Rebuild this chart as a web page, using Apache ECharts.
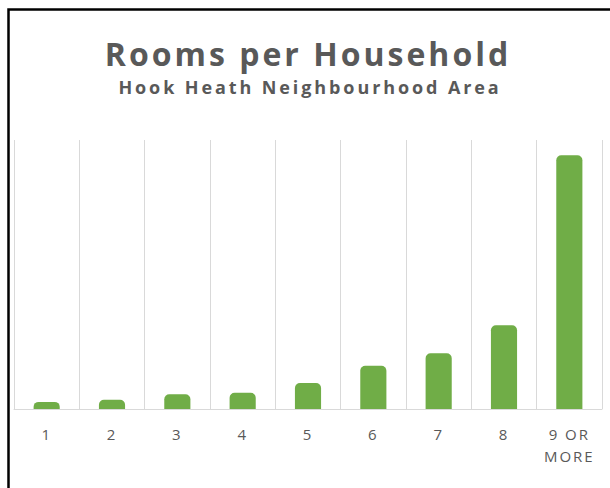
<!DOCTYPE html>
<html>
<head>
<meta charset="utf-8">
<script src="https://cdn.jsdelivr.net/npm/echarts@6/dist/echarts.min.js"></script>
<style>
  html, body { margin: 0; padding: 0; background: #fff; }
  #chart { width: 610px; height: 488px; }
</style>
</head>
<body>
<div id="chart"></div>
<script>
  // data
  const titleText = 'Rooms per Household';
  const subText = 'Hook Heath Neighbourhood Area';
  const categories = ['1', '2', '3', '4', '5', '6', '7', '8', '9 OR\nMORE'];
  const shares = [1.4, 1.8, 2.9, 3.2, 5.1, 8.5, 11.0, 16.5, 50.0];

  const chartDom = document.getElementById('chart');
  const myChart = echarts.init(chartDom, null, { renderer: 'svg' });

  const option = {
    animation: false,
    backgroundColor: '#fff',
    graphic: [
      {
        type: 'rect',
        shape: { x: 8.5, y: 9.5, width: 700, height: 600 },
        style: { fill: 'none', stroke: '#000', lineWidth: 2.5 },
        silent: true
      },
      {
        type: 'text',
        x: 308,
        y: 53,
        style: {
          text: titleText,
          fill: '#595959',
          font: 'bold 32px "Open Sans"',
          align: 'center',
          verticalAlign: 'middle',
          textAlign: 'center',
          textVerticalAlign: 'middle'
        }
      },
      {
        type: 'text',
        x: 310,
        y: 87,
        style: {
          text: subText,
          fill: '#595959',
          font: 'bold 18px "Open Sans"',
          align: 'center',
          verticalAlign: 'middle',
          textAlign: 'center',
          textVerticalAlign: 'middle'
        }
      }
    ],
    grid: {
      left: 14,
      right: 8,
      top: 140,
      bottom: 79
    },
    xAxis: {
      type: 'category',
      data: categories,
      axisTick: { show: false },
      axisLine: { lineStyle: { color: '#d9d9d9', width: 1 } },
      splitLine: { show: true, lineStyle: { color: '#d9d9d9', width: 1 } },
      axisLabel: {
        color: '#595959',
        fontSize: 15,
        fontFamily: 'Open Sans',
        lineHeight: 22,
        margin: 14
      }
    },
    yAxis: {
      type: 'value',
      min: 0,
      max: 53,
      show: false,
      splitLine: { show: false }
    },
    series: [
      {
        type: 'bar',
        data: shares,
        barWidth: '40%',
        itemStyle: { color: '#70ad47', borderRadius: [5, 5, 0, 0] }
      }
    ]
  };

  myChart.setOption(option);

  // letter spacing like the original
  function spaceOut() {
    chartDom.querySelectorAll('text').forEach(function (t) {
      const s = t.textContent;
      let ls = 2;
      if (s === titleText) ls = 3;
      else if (s === subText) ls = 2.9;
      t.setAttribute('letter-spacing', ls);
    });
  }
  myChart.on('finished', spaceOut);
  spaceOut();
</script>
</body>
</html>
